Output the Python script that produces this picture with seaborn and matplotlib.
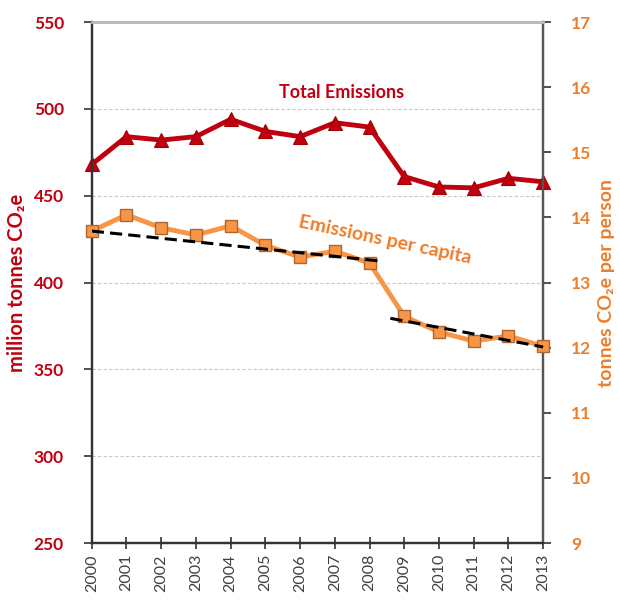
import numpy as np
import pandas as pd
import matplotlib
matplotlib.use("Agg")
import matplotlib.pyplot as plt
import seaborn as sns

# data
years = list(range(2000, 2014))
total_emissions = [468, 484, 482, 484, 494, 487, 484, 492, 489.5, 461, 455, 454.5, 460, 458]
per_capita = [13.79, 14.04, 13.84, 13.73, 13.87, 13.57, 13.39, 13.48, 13.30,
              12.48, 12.24, 12.10, 12.18, 12.02]
# trend segments (start/end in data units)
trend1_x = [2000, 2008.3]
trend1_y = [13.79, 13.33]
trend2_x = [2008.6, 2013]
trend2_y = [12.45, 12.01]

left_ticks = [250, 300, 350, 400, 450, 500, 550]
right_ticks = [9, 10, 11, 12, 13, 14, 15, 16, 17]

RED = "#C00010"
ORANGE = "#F79646"
ORANGE_TXT = "#EC7F2C"
EDGE = "#B5652B"

sns.set_style("white")
plt.rcParams["font.family"] = ["Lato", "DejaVu Sans"]

df = pd.DataFrame({"year": years, "total": total_emissions, "capita": per_capita})

fig = plt.figure(figsize=(6.2, 6.03), dpi=100)
ax = fig.add_axes([0.148, 0.0995, 0.728, 0.864])
ax2 = ax.twinx()

sns.lineplot(data=df, x="year", y="total", ax=ax, color=RED, lw=3.5,
             marker="^", markersize=10, markeredgecolor="#A00000",
             markeredgewidth=0.8, clip_on=False, zorder=5)
sns.lineplot(data=df, x="year", y="capita", ax=ax2, color=ORANGE, lw=3.5,
             marker="s", markersize=9, markeredgecolor=EDGE,
             markeredgewidth=1.0, clip_on=False, zorder=4)
ax2.plot(trend1_x, trend1_y, color="black", lw=2.2, ls=(0, (4, 2)), zorder=6)
ax2.plot(trend2_x, trend2_y, color="black", lw=2.2, ls=(0, (4, 2)), zorder=6, clip_on=False)

ax.set_xlim(2000, 2013)
ax.set_ylim(250, 550)
ax2.set_ylim(9, 17)
ax.set_xticks(years)
ax.set_xticklabels([str(y) for y in years], rotation=90, fontsize=11.5, color="#404040")
ax.set_yticks(left_ticks)
ax.set_yticklabels([str(t) for t in left_ticks], fontsize=12.5, fontweight="bold", color=RED)
ax2.set_yticks(right_ticks)
ax2.set_yticklabels([str(t) for t in right_ticks], fontsize=12.5, fontweight="bold", color=ORANGE_TXT)

for t in left_ticks[1:-1]:
    ax.axhline(t, color="#C8C8C8", lw=0.8, ls=(0, (3, 2)), zorder=0)

ax.tick_params(axis="y", direction="out", length=6, width=1.2, color="#333333", pad=14, left=True)
ax.tick_params(axis="x", direction="inout", length=8, width=1.2, color="#333333", pad=4, bottom=True)
ax2.tick_params(axis="y", direction="out", length=6, width=1.2, color="#333333", pad=14, right=True)

for a in (ax, ax2):
    a.spines["left"].set_color("#333333")
    a.spines["left"].set_linewidth(1.6)
    a.spines["right"].set_color("#555555")
    a.spines["right"].set_linewidth(1.6)
    a.spines["bottom"].set_color("#333333")
    a.spines["bottom"].set_linewidth(1.6)
    a.spines["top"].set_color("#BBBBBB")
    a.spines["top"].set_linewidth(2)

ax.set_xlabel("")
ax.set_ylabel("million tonnes CO₂e", fontsize=14.5, fontweight="bold", color=RED, labelpad=5)
ax2.set_ylabel("tonnes CO₂e per person", fontsize=14, fontweight="bold", color=ORANGE_TXT,
               labelpad=5)

ax.text(2007.2, 509.5, "Total Emissions", color=RED, fontsize=13, fontweight="bold",
        ha="center", va="center")
ax2.text(2008.45, 13.65, "Emissions per capita", color=ORANGE_TXT, fontsize=14,
         fontweight="bold", ha="center", va="center", rotation=-12)

fig.savefig("out.png", dpi=100)
